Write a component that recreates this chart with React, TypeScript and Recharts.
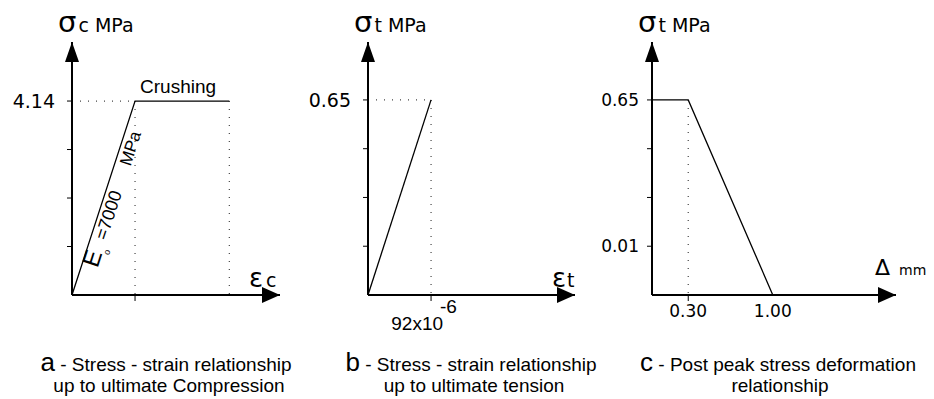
import React from "react";
import {
  LineChart,
  Line,
  XAxis,
  YAxis,
  ReferenceLine,
  ReferenceDot,
} from "recharts";

// (a) compression: strain ×10⁻⁶, stress MPa. Peak strain = 4.14 / 7000.
const compStrain = [0, 591, 1475];
const compStress = [0, 4.14, 4.14];
const compYTicks = [1.035, 2.07, 3.105, 4.14];
const compYLabels = ["", "", "", "4.14"];
const compXTicks = [591];
const compXMax = 1950;
const compYMax = 5.4;

// (b) tension: strain ×10⁻⁶, stress MPa
const tensStrain = [0, 92];
const tensStress = [0, 0.65];
const tensYTicks = [0.1625, 0.325, 0.4875, 0.65];
const tensYLabels = ["", "", "", "0.65"];
const tensXTicks = [92];
const tensXMax = 302;
const tensYMax = 0.843;

// (c) post-peak softening: crack opening mm, stress MPa
const softDisp = [0, 0.3, 1.0];
const softStress = [0.65, 0.65, 0];
const softYTicks = [0.1625, 0.325, 0.4875, 0.65];
const softYLabels = ["0.01", "", "", "0.65"];
const softXTicks = [0.3, 1.0];
const softXLabels = ["0.30", "1.00"];
const softXMax = 2.02;
const softYMax = 0.843;

const SANS = "'Liberation Sans', Arial, sans-serif";
const VERD = "'DejaVu Sans', Verdana, sans-serif";

const zip = (xs: number[], ys: number[]) => xs.map((x, i) => ({ x, y: ys[i] }));

const labelFor = (ticks: number[], labels: string[]) => (v: number) => {
  const i = ticks.findIndex((t) => Math.abs(t - v) < 1e-9);
  return i >= 0 ? labels[i] : "";
};

// arrowhead at the end of the horizontal axis, with the axis symbol
const xArrow =
  (label: React.ReactNode, dx: number, dy: number) => (props: any) => {
    const { cx, cy } = props;
    return (
      <g>
        <polygon
          points={`${cx},${cy} ${cx - 18},${cy - 8} ${cx - 18},${cy + 8}`}
          fill="#000"
        />
        <text x={cx + dx} y={cy + dy} fill="#000" fontFamily={VERD}>
          {label}
        </text>
      </g>
    );
  };

// arrowhead on top of the vertical axis, with the axis title
const yArrow = (sub: string) => (props: any) => {
  const { cx, cy } = props;
  return (
    <g>
      <polygon
        points={`${cx},${cy} ${cx - 7},${cy + 20} ${cx + 7},${cy + 20}`}
        fill="#000"
      />
      <text x={cx - 14} y={cy - 10} fill="#000" fontFamily={VERD}>
        <tspan fontSize={29}>σ</tspan>
        <tspan fontSize={19} dx={2}>
          {sub} MPa
        </tspan>
      </text>
    </g>
  );
};

// "Eo = 7000 MPa" written along the elastic branch
const ModulusLabel = (props: any) => {
  const { x1, y1, x2, y2 } = props;
  if (x1 == null) return null;
  const len = Math.hypot(x2 - x1, y2 - y1);
  const d = [(x2 - x1) / len, (y2 - y1) / len];
  const n = [-d[1], d[0]];
  const ang = (Math.atan2(d[1], d[0]) * 180) / Math.PI;
  const at = (s: number, h: number) => [x1 + s * d[0] + h * n[0], y1 + s * d[1] + h * n[1]];
  const piece = (s: number, h: number, size: number, str: string) => {
    const [px, py] = at(s, h);
    return (
      <text
        x={px}
        y={py}
        fontSize={size}
        fontFamily={SANS}
        fill="#000"
        transform={`rotate(${ang} ${px} ${py})`}
      >
        {str}
      </text>
    );
  };
  return (
    <g>
      {piece(33, 16, 24, "E")}
      {piece(49, 23, 9, "o")}
      {piece(62, 16, 18, "=7000")}
      {piece(140, 16, 17, "MPa")}
    </g>
  );
};

const TensionTick = (props: any) => {
  const { x, y, payload } = props;
  return (
    <g fontFamily={SANS} fill="#000" fontSize={19}>
      <text x={x + 12} y={y + 29} textAnchor="end">
        {`${payload.value}x10`}
      </text>
      <text x={x + 9} y={y + 12}>
        -6
      </text>
    </g>
  );
};

const SoftTick = (props: any) => {
  const { x, y, payload, index } = props;
  return (
    <g>
      {index === 0 && <line x1={x} x2={x} y1={y - 6} y2={y} stroke="#000" />}
      <text x={x} y={y + 16} textAnchor="middle" fontFamily={VERD} fontSize={17} fill="#000">
        {labelFor(softXTicks, softXLabels)(payload.value)}
      </text>
    </g>
  );
};

const dotted = { stroke: "#444", strokeWidth: 1.2, strokeDasharray: "1 7" };
const axisLine = { stroke: "#000", strokeWidth: 2 };

const Panel = ({ left, children }: { left: number; children: React.ReactNode }) => (
  <div style={{ position: "absolute", left, top: 0 }}>{children}</div>
);

export default function App() {
  return (
    <div
      style={{
        position: "absolute",
        left: 0,
        top: 0,
        width: 934,
        height: 399,
        background: "#fff",
      }}
    >
      <Panel left={0}>
        <LineChart
          width={300}
          height={345}
          data={zip(compStrain, compStress)}
          margin={{ top: 42, right: 20, bottom: 10, left: 0 }}
        >
          <XAxis
            type="number"
            dataKey="x"
            domain={[0, compXMax]}
            ticks={compXTicks}
            tickFormatter={() => ""}
            tickSize={6}
            height={40}
            axisLine={axisLine}
            tickLine={{ stroke: "#000" }}
          />
          <YAxis
            type="number"
            domain={[0, compYMax]}
            ticks={compYTicks}
            interval={0}
            width={72}
            tickSize={5}
            tickMargin={12}
            tickFormatter={labelFor(compYTicks, compYLabels)}
            tick={{ fill: "#000", fontSize: 19, fontFamily: VERD }}
            axisLine={axisLine}
            tickLine={{ stroke: "#000" }}
          />
          <ReferenceLine segment={[{ x: 0, y: 4.14 }, { x: 591, y: 4.14 }]} {...dotted} />
          <ReferenceLine segment={[{ x: 591, y: 4.14 }, { x: 591, y: 0 }]} {...dotted} />
          <ReferenceLine segment={[{ x: 1475, y: 4.14 }, { x: 1475, y: 0 }]} {...dotted} />
          <ReferenceLine
            segment={[{ x: 0, y: 0 }, { x: 591, y: 4.14 }]}
            stroke="none"
            shape={ModulusLabel}
          />
          <ReferenceDot
            x={591}
            y={4.14}
            ifOverflow="visible"
            shape={(p: any) => (
              <text x={p.cx + 5} y={p.cy - 8} fontSize={19} fontFamily={SANS} fill="#000">
                Crushing
              </text>
            )}
          />
          <Line
            dataKey="y"
            stroke="#000"
            strokeWidth={1.3}
            dot={false}
            isAnimationActive={false}
          />
          <ReferenceDot
            x={compXMax}
            y={0}
            ifOverflow="visible"
            shape={xArrow(
              <>
                <tspan fontSize={26}>ε</tspan>
                <tspan fontSize={19} dx={3}>c</tspan>
              </>,
              -31,
              -8
            )}
          />
          <ReferenceDot x={0} y={compYMax} ifOverflow="visible" shape={yArrow("c")} />
        </LineChart>
      </Panel>

      <Panel left={300}>
        <LineChart
          width={295}
          height={345}
          data={zip(tensStrain, tensStress)}
          margin={{ top: 42, right: 20, bottom: 10, left: 0 }}
        >
          <XAxis
            type="number"
            dataKey="x"
            domain={[0, tensXMax]}
            ticks={tensXTicks}
            tick={<TensionTick />}
            tickSize={6}
            tickMargin={0}
            height={40}
            axisLine={axisLine}
            tickLine={{ stroke: "#000" }}
          />
          <YAxis
            type="number"
            domain={[0, tensYMax]}
            ticks={tensYTicks}
            interval={0}
            width={68}
            tickSize={5}
            tickMargin={12}
            tickFormatter={labelFor(tensYTicks, tensYLabels)}
            tick={{ fill: "#000", fontSize: 19, fontFamily: VERD }}
            axisLine={axisLine}
            tickLine={{ stroke: "#000" }}
          />
          <ReferenceLine segment={[{ x: 0, y: 0.65 }, { x: 92, y: 0.65 }]} {...dotted} />
          <ReferenceLine segment={[{ x: 92, y: 0.65 }, { x: 92, y: 0 }]} {...dotted} />
          <Line
            dataKey="y"
            stroke="#000"
            strokeWidth={1.3}
            dot={false}
            isAnimationActive={false}
          />
          <ReferenceDot
            x={tensXMax}
            y={0}
            ifOverflow="visible"
            shape={xArrow(
              <>
                <tspan fontSize={26}>ε</tspan>
                <tspan fontSize={19} dx={1}>t</tspan>
              </>,
              -23,
              -8
            )}
          />
          <ReferenceDot x={0} y={tensYMax} ifOverflow="visible" shape={yArrow("t")} />
        </LineChart>
      </Panel>

      <Panel left={595}>
        <LineChart
          width={339}
          height={345}
          data={zip(softDisp, softStress)}
          margin={{ top: 42, right: 38, bottom: 10, left: 0 }}
        >
          <XAxis
            type="number"
            dataKey="x"
            domain={[0, softXMax]}
            ticks={softXTicks}
            interval={0}
            tick={<SoftTick />}
            tickSize={6}
            tickMargin={0}
            height={40}
            axisLine={axisLine}
            tickLine={false}
          />
          <YAxis
            type="number"
            domain={[0, softYMax]}
            ticks={softYTicks}
            interval={0}
            width={57}
            tickSize={5}
            tickMargin={8}
            tickFormatter={labelFor(softYTicks, softYLabels)}
            tick={{ fill: "#000", fontSize: 17, fontFamily: VERD }}
            axisLine={axisLine}
            tickLine={{ stroke: "#000" }}
          />
          <ReferenceLine segment={[{ x: 0.3, y: 0.65 }, { x: 0.3, y: 0 }]} {...dotted} />
          <Line
            dataKey="y"
            stroke="#000"
            strokeWidth={1.3}
            dot={false}
            isAnimationActive={false}
          />
          <ReferenceDot
            x={softXMax}
            y={0}
            ifOverflow="visible"
            shape={xArrow(
              <>
                <tspan fontSize={22}>Δ</tspan>
                <tspan fontSize={14} dx={9}>mm</tspan>
              </>,
              -21,
              -20
            )}
          />
          <ReferenceDot x={0} y={softYMax} ifOverflow="visible" shape={yArrow("t")} />
        </LineChart>
      </Panel>

      <svg
        width={934}
        height={399}
        style={{ position: "absolute", left: 0, top: 0, pointerEvents: "none" }}
      >
        <g fontFamily={SANS} fontSize={19} fill="#000" textAnchor="middle">
          <text x={166} y={371}>
            <tspan fontSize={26}>a</tspan> - Stress - strain relationship
          </text>
          <text x={169} y={392}>up to ultimate Compression</text>
          <text x={471} y={371}>
            <tspan fontSize={26}>b</tspan> - Stress - strain relationship
          </text>
          <text x={474} y={392}>up to ultimate tension</text>
          <text x={778} y={371}>
            <tspan fontSize={26}>c</tspan> - Post peak stress deformation
          </text>
          <text x={780} y={392}>relationship</text>
        </g>
      </svg>
    </div>
  );
}
